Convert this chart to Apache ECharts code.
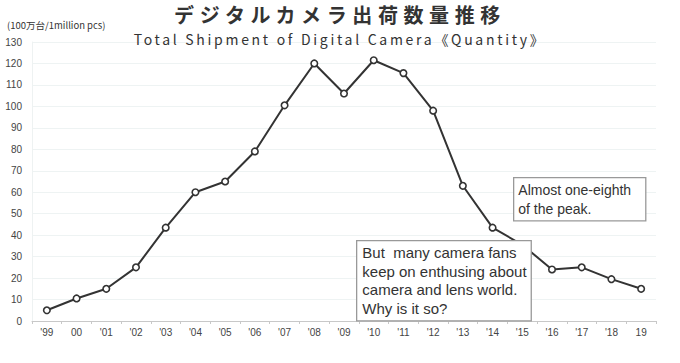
<!DOCTYPE html>
<html>
<head>
<meta charset="utf-8">
<script src="https://cdn.jsdelivr.net/npm/echarts@6/dist/echarts.min.js"></script>
<style>
html,body{margin:0;padding:0;background:#fff;}
#c{width:680px;height:363px;}
text[style*="TitleFont"]{letter-spacing:5.6px;}
text[style*="SubFont"]{letter-spacing:2.7px;}
</style>
</head>
<body>
<div id="c"></div>
<script>
const years = ["'99","00","'01","'02","'03","'04","'05","'06","'07","'08","'09","'10","'11","'12","'13","'14","'15","'16","'17","'18","19"];
const shipments = [5, 10.5, 15, 25, 43.5, 60, 65, 79, 100.5, 120, 106, 121.5, 115.5, 98, 63, 43.5, 35.5, 24, 25, 19.5, 15];
const yTicks = {min: 0, max: 130, interval: 10};
const titleText = "デジタルカメラ出荷数量推移";
const subtitleText = "Total Shipment of Digital Camera《Quantity》";
const unitText = "(100万台/1million pcs)";
const note1 = ["Almost one-eighth", "of the peak."];
const note2 = ["But  many camera fans", "keep on enthusing about", "camera and lens world.", "Why is it so?"];

const chart = echarts.init(document.getElementById('c'), null, {renderer: 'svg'});
chart.setOption({
  backgroundColor: '#fff',
  animation: false,
  title: [
    {text: titleText, left: 'center', top: -1,
     textStyle: {fontFamily: "'Noto Sans CJK JP', TitleFont", fontSize: 20, fontWeight: 'bold', color: '#333'}},
    {text: subtitleText, left: 'center', top: 27,
     textStyle: {fontFamily: "'Noto Sans CJK JP', SubFont", fontSize: 14, fontWeight: 'normal', color: '#333'}},
    {text: unitText, left: 2, top: 15,
     textStyle: {fontFamily: "'Liberation Sans Narrow', 'Noto Sans CJK JP', sans-serif", fontSize: 9.5, fontWeight: 'normal', color: '#333'}}
  ],
  grid: {left: 32, right: 24, top: 42, bottom: 42},
  xAxis: {
    type: 'category',
    data: years,
    boundaryGap: true,
    axisLine: {lineStyle: {color: '#c8c8c8', width: 1}},
    axisTick: {show: true, length: 3, lineStyle: {color: '#c8c8c8'}},
    axisLabel: {color: '#444', fontSize: 10, margin: 6, fontFamily: "'Liberation Sans Narrow', sans-serif"}
  },
  yAxis: {
    type: 'value',
    min: yTicks.min, max: yTicks.max, interval: yTicks.interval,
    axisLine: {show: true, lineStyle: {color: '#eef2f2'}},
    axisTick: {show: false},
    axisLabel: {color: '#444', fontSize: 10, margin: 10, fontFamily: "'Liberation Sans', sans-serif"},
    splitLine: {lineStyle: {color: '#eef3f3', width: 1}}
  },
  series: [{
    type: 'line',
    data: shipments,
    symbol: 'circle',
    symbolSize: 6.5,
    lineStyle: {color: '#333', width: 2},
    itemStyle: {color: '#fff', borderColor: '#333', borderWidth: 1.6},
    z: 2
  }],
  graphic: [
    {type: 'text', left: 513, top: 177, z: 100,
     style: {text: note1.join('\n'), font: "14px 'Liberation Sans', Arial, sans-serif", fill: '#333', lineHeight: 19,
             backgroundColor: '#fff', borderColor: '#999', borderWidth: 1.3, padding: [2, 14, 2, 4]}},
    {type: 'text', left: 356, top: 240, z: 100,
     style: {text: note2.join('\n'), font: "15px 'Liberation Sans', Arial, sans-serif", fill: '#333', lineHeight: 18.5,
             backgroundColor: '#fff', borderColor: '#999', borderWidth: 1.3, padding: [2, 4, 3, 5]}}
  ]
});
</script>
</body>
</html>
